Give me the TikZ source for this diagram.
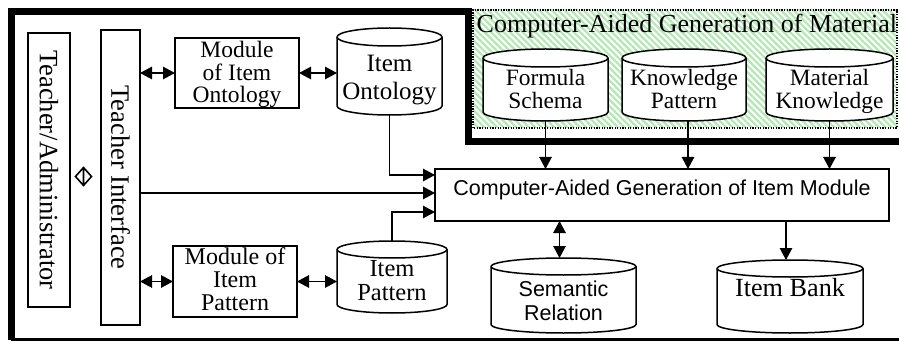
\documentclass[tikz,border=0pt]{standalone}
\usepackage{fontspec}
\setmainfont{Liberation Serif}
\setsansfont{Liberation Sans}
\usetikzlibrary{arrows.meta,patterns.meta,calc}
\definecolor{hatch}{RGB}{178,232,178}
\newcommand\lines[3]{\raisebox{#1}[0pt][0pt]{\vbox{#2\lineskiplimit=-100pt\lineskip=0pt\halign{\hfil##\hfil\cr#3\crcr}}}}
\newcommand\cylbody[5]{%
  \filldraw[cylline] ({#1-#3/2},{#2+#4/2-#5}) -- ({#1-#3/2},{#2-#4/2+#5})
    arc[start angle=180,end angle=360,x radius={#3/2},y radius=#5]
    -- ({#1+#3/2},{#2+#4/2-#5})
    arc[start angle=0,end angle=180,x radius={#3/2},y radius=#5] -- cycle;
  \draw[cylline] ({#1-#3/2},{#2+#4/2-#5})
    arc[start angle=180,end angle=360,x radius={#3/2},y radius=#5];}
\newcommand\cyl[7]{%
  \cylbody{#2}{#3}{#4}{#5}{#6}
  \node[cylnode, minimum width=#4pt, minimum height=#5pt] (#1) at (#2,#3) {#7};}
\tikzset{
  box/.style={draw, line width=1.5pt, fill=white, inner sep=0pt, outer sep=0pt},
  cylline/.style={line width=1.5pt, fill=white},
  cylnode/.style={inner sep=0pt, outer sep=0pt},
  arr/.style={line width=1.3pt, -{Triangle[length=12pt,width=12.5pt]}},
  dbl/.style={line width=1.3pt, {Triangle[length=12pt,width=12.5pt]}-{Triangle[length=12pt,width=12.5pt]}},
  frame/.style={line width=7pt, line join=miter},
}
\begin{document}
\begin{tikzpicture}[x=1pt,y=1pt]
\useasboundingbox (0,0) rectangle (899,343);
% green material area
\fill[white] (473,215) rectangle (897,333);
\path[pattern={Lines[angle=-45,distance=4.5pt,line width=2.2pt]}, pattern color=hatch] (473,215) rectangle (897,333);
\draw[line width=1.3pt, dash pattern=on 1.3pt off 1.3pt] (473,215) rectangle (897,333);
% frame
\draw[frame] (11,3) -- (11,331.5) -- (468.5,331.5) -- (468.5,201.5) -- (905,201.5);
\draw[line width=3pt] (11,3.5) -- (905,3.5);
% title
\node[anchor=base west, inner sep=0pt, font=\fontsize{26}{30}\selectfont] (tt) at (476.5,310) {Computer-Aided Generation of Material};
% boxes
\node[box, minimum width=42pt, minimum height=274pt] (ta) at (49,173)
  {\rotatebox{-90}{\fontsize{26.5}{30}\selectfont Teacher/Administrator}};
\node[box, minimum width=39pt, minimum height=295pt] (ti) at (120.5,165.5)
  {\rotatebox{-90}{\fontsize{26.5}{30}\selectfont Teacher Interface}};
\node[box, minimum width=124pt, minimum height=70pt] (mo) at (237,270)
  {\lines{-29.5pt}{\fontsize{23.5}{22.3}\selectfont}{Module\cr of Item\cr Ontology}};
\node[box, minimum width=124pt, minimum height=71pt] (mp) at (235,61.5)
  {\lines{-29pt}{\fontsize{24}{22.8}\selectfont}{Module of\cr Item\cr Pattern}};
\node[box, minimum width=454pt, minimum height=52pt] (cg) at (662,148)
  {\lines{-1pt}{\sffamily\fontsize{21.5}{24}\selectfont}{Computer-Aided Generation of Item Module}};
% cylinders
\cyl{io}{389.5}{271.5}{105}{87}{9}{\lines{-28.5pt}{\fontsize{25}{28}\selectfont}{Item\cr Ontology}}
\cyl{ip}{392}{66}{110}{72}{8.5}{\lines{-23.7pt}{\fontsize{24.5}{24}\selectfont}{Item\cr Pattern}}
\cyl{fs}{545.5}{258}{125}{72}{9}{\lines{-23.3pt}{\fontsize{23.4}{23}\selectfont}{Formula\cr Schema}}
\cyl{kp}{684}{258}{124}{72}{9}{\lines{-23.3pt}{\fontsize{23.4}{23}\selectfont}{Knowledge\cr Pattern}}
\cyl{mk}{829.5}{258}{127}{72}{9}{\lines{-23.3pt}{\fontsize{23.4}{23}\selectfont}{Material\cr Knowledge}}
\cyl{sr}{563.5}{47.5}{145}{75}{8.5}{\lines{-24.5pt}{\sffamily\fontsize{21.5}{23.5}\selectfont}{Semantic\cr Relation}}
\cyl{ib}{790}{46.5}{146}{73}{8.5}{\lines{0pt}{\fontsize{26.2}{28}\selectfont}{Item Bank}}
% diamond symbol between teacher and interface
\draw[line width=1.6pt, line join=miter] (75.5,166.5) -- (83.5,175.5) -- (91.5,166.5) -- (83.5,157.5) -- cycle (83.5,157.5) -- (83.5,175.5);
% connectors
\draw[dbl] (mo.west -| ti.east) -- (mo.west);
\draw[dbl] (mo.east) -- (mo.east -| io.west);
\draw[dbl] (mp.west -| ti.east) -- (mp.west);
\draw[dbl] (mp.east) -- (mp.east -| ip.west);
\draw[arr] (io.south) |- ([yshift=20pt]cg.west);
\draw[arr] ([yshift=2pt]cg.west -| ti.east) -- ([yshift=2pt]cg.west);
\draw[arr] (ip.north) |- ([yshift=-17pt]cg.west);
\draw[arr] (fs.south) -- (fs.south |- cg.north);
\draw[arr] ([xshift=4pt]kp.south) -- ([xshift=4pt]kp.south |- cg.north);
\draw[arr] (mk.south) -- (mk.south |- cg.north);
\draw[dbl] ([xshift=-4pt]sr.north |- cg.south) -- ([xshift=-4pt]sr.north);
\draw[arr] ([xshift=-4pt]ib.north |- cg.south) -- ([xshift=-4pt]ib.north);
\end{tikzpicture}
\end{document}
